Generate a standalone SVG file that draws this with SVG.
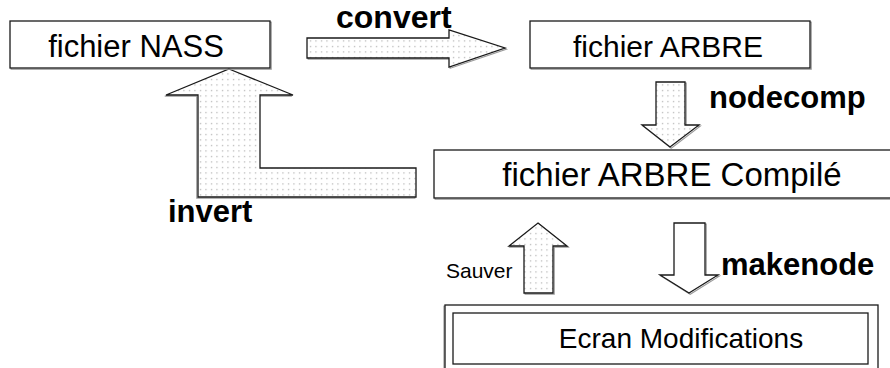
<svg xmlns="http://www.w3.org/2000/svg" width="890" height="368" viewBox="0 0 890 368">
<style>
.box{fill:#fff;stroke:#1a1a1a;stroke-width:1.3}
.shadow{fill:none;stroke:#9a9a9a;stroke-width:1.2}
.arr{stroke:#1a1a1a;stroke-width:1.3;stroke-linejoin:miter}
.dot{fill:url(#dots)}
.plain{fill:#fff}
.lbl{font-family:"Liberation Sans",Arial,sans-serif;fill:#000}
.bold{font-family:"Liberation Sans",Arial,sans-serif;font-weight:bold;fill:#000}
</style>
<defs>
<pattern id="dots" width="5.5" height="5.5" patternUnits="userSpaceOnUse">
<rect width="5.5" height="5.5" fill="#fff"/>
<rect x="2" y="2" width="1" height="1" fill="#8a8a8a"/>
</pattern>
</defs>
<g id="connectors">
<polygon class="shadow" transform="translate(1.2,1.2)" points="307,38 449,38 449,30 505,48 449,67 449,58 307,58"/>
<polygon class="arr dot" points="307,38 449,38 449,30 505,48 449,67 449,58 307,58"/>
<polygon class="shadow" transform="translate(1.2,1.2)" points="656,82 685,82 685,125 699,125 670,147 642,125 656,125"/>
<polygon class="arr dot" points="656,82 685,82 685,125 699,125 670,147 642,125 656,125"/>
<polygon class="shadow" transform="translate(-1.2,1.2)" points="229,69 293,95 260,95 260,168 416,168 416,197 198,197 198,95 166,95"/>
<polygon class="arr dot" points="229,69 293,95 260,95 260,168 416,168 416,197 198,197 198,95 166,95"/>
<polygon class="shadow" transform="translate(1.2,1.2)" points="538,223 567,246 553,246 553,293 524,293 524,246 509,246"/>
<polygon class="arr dot" points="538,223 567,246 553,246 553,293 524,293 524,246 509,246"/>
<polygon class="shadow" transform="translate(1.2,1.2)" points="674,223 705,223 705,275 718,275 689,293 660,275 674,275"/>
<polygon class="arr plain" points="674,223 705,223 705,275 718,275 689,293 660,275 674,275"/>
<text class="bold" x="336" y="28" font-size="32">convert</text>
<text class="bold" x="709" y="108" font-size="31">nodecomp</text>
<text class="bold" x="168" y="222" font-size="31">invert</text>
<text class="lbl" x="446" y="278" font-size="21">Sauver</text>
<text class="bold" x="721" y="275" font-size="31">makenode</text>
</g>
<g id="nass">
<rect class="shadow" x="11.2" y="22.2" width="260" height="47"/>
<rect class="box" x="10" y="21" width="260" height="47"/>
<text class="lbl" x="136" y="57" font-size="31" text-anchor="middle">fichier NASS</text>
</g>
<g id="arbre">
<rect class="shadow" x="531.2" y="22.2" width="280" height="47"/>
<rect class="box" x="530" y="21" width="280" height="47"/>
<text class="lbl" x="668" y="57" font-size="30" text-anchor="middle">fichier ARBRE</text>
</g>
<g id="compile">
<rect class="shadow" x="435.2" y="151.2" width="480" height="48"/>
<rect class="box" x="434" y="150" width="480" height="48"/>
<text class="lbl" x="672" y="186" font-size="33" text-anchor="middle">fichier ARBRE Compilé</text>
</g>
<g id="ecran">
<rect class="shadow" x="444" y="306.2" width="433" height="70"/>
<rect class="box" x="445" y="305" width="433" height="70"/>
<rect class="box" x="453" y="313" width="415" height="51"/>
<text class="lbl" x="681" y="348" font-size="28" text-anchor="middle">Ecran Modifications</text>
</g>
</svg>
